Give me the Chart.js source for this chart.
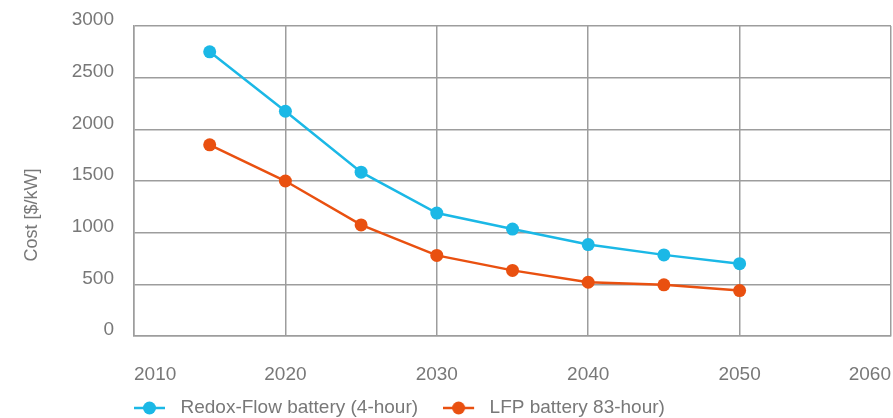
<!DOCTYPE html>
<html>
<head>
<meta charset="utf-8">
<script src="https://cdn.jsdelivr.net/npm/chart.js@4/dist/chart.umd.min.js"></script>
<style>
  body { margin: 0; background: #fff; }
</style>
</head>
<body>
<canvas id="myChart" width="893" height="418"></canvas>
<script>

const years = [2015, 2020, 2025, 2030, 2035, 2040, 2045, 2050];
const redoxFlow = [2750, 2175, 1585, 1190, 1035, 885, 785, 700];
const lfp = [1850, 1500, 1075, 780, 635, 520, 495, 440];
const xTicks = [2010, 2020, 2030, 2040, 2050, 2060];
const yTicks = [0, 500, 1000, 1500, 2000, 2500, 3000];

const blue = 'rgb(27, 184, 230)';
const orange = 'rgb(233, 80, 16)';
const grey = '#787878';
const gridGrey = '#9d9d9d';

// legend marker: short line with a dot in the middle
function makeMarker(color) {
  const c = document.createElement('canvas');
  c.width = 37;
  c.height = 14;
  const ctx = c.getContext('2d');
  ctx.strokeStyle = color;
  ctx.lineWidth = 2.5;
  ctx.beginPath();
  ctx.moveTo(0, 7);
  ctx.lineTo(31, 7);
  ctx.stroke();
  ctx.fillStyle = color;
  ctx.beginPath();
  ctx.arc(15.5, 7, 6.5, 0, Math.PI * 2);
  ctx.fill();
  return c;
}
const markers = [makeMarker(blue), makeMarker(orange)];

const data = {
  datasets: [{
    label: 'Redox-Flow battery (4-hour)',
    data: years.map((y, i) => ({x: y, y: redoxFlow[i]})),
    borderColor: blue,
    backgroundColor: blue,
    borderWidth: 2.5,
    pointRadius: 6.5,
    pointBorderWidth: 0,
  }, {
    label: 'LFP battery 83-hour)',
    data: years.map((y, i) => ({x: y, y: lfp[i]})),
    borderColor: orange,
    backgroundColor: orange,
    borderWidth: 2.5,
    pointRadius: 6.5,
    pointBorderWidth: 0,
  }]
};

const tweaks = {
  id: 'tweaks',
  afterLayout(chart) {
    const lg = chart.legend;
    lg.left = chart.chartArea.left - 25;
    lg.top = 373.5;
    lg.bottom = 418;
    lg.height = lg.bottom - lg.top;
  },
  afterDraw(chart) {
    const ctx = chart.ctx;
    ctx.save();
    ctx.translate(32, 215);
    ctx.rotate(-Math.PI / 2);
    ctx.font = '18px "Liberation Sans"';
    ctx.fillStyle = grey;
    ctx.textAlign = 'center';
    ctx.textBaseline = 'middle';
    ctx.fillText('Cost [$/kW]', 0, 0);
    ctx.restore();
  }
};

const config = {
  type: 'line',
  data: data,
  plugins: [tweaks],
  options: {
    responsive: false,
    devicePixelRatio: 1,
    animation: false,
    events: [],
    layout: { autoPadding: false, padding: { left: 0, right: 2, top: 26, bottom: 0 } },
    scales: {
      x: {
        type: 'linear',
        min: 2010,
        max: 2060,
        afterBuildTicks: s => { s.ticks = xTicks.map(v => ({value: v})); },
        afterFit: s => { s.height = 60; s.paddingLeft = 0; s.paddingRight = 0; },
        grid: { color: gridGrey, lineWidth: 1.5, drawTicks: false },
        border: { color: gridGrey, width: 1.5 },
        ticks: {
          align: 'inner',
          padding: 27,
          color: grey,
          font: { family: 'Liberation Sans', size: 19 },
          callback: v => String(v)
        }
      },
      y: {
        min: 0,
        max: 3000,
        afterBuildTicks: s => { s.ticks = yTicks.map(v => ({value: v})); },
        afterFit: s => { s.width = 134; s.paddingTop = 0; s.paddingBottom = 0; },
        grid: { color: gridGrey, lineWidth: 1.5, drawTicks: false },
        border: { color: gridGrey, width: 1.5 },
        ticks: {
          padding: 20,
          labelOffset: -6,
          color: grey,
          font: { family: 'Liberation Sans', size: 19 },
          callback: v => String(v)
        }
      }
    },
    plugins: {
      tooltip: { enabled: false },
      legend: {
        position: 'bottom',
        align: 'start',
        maxHeight: 22,
        labels: {
          usePointStyle: true,
          pointStyleWidth: 37,
          padding: 25,
          color: grey,
          font: { family: 'Liberation Sans', size: 19 },
          generateLabels: chart => {
            const items = Chart.defaults.plugins.legend.labels.generateLabels(chart);
            items.forEach((it, i) => { it.pointStyle = markers[i]; });
            return items;
          }
        }
      }
    }
  }
};

const myChart = new Chart(
  document.getElementById('myChart'),
  config
);
</script>
</body>
</html>
